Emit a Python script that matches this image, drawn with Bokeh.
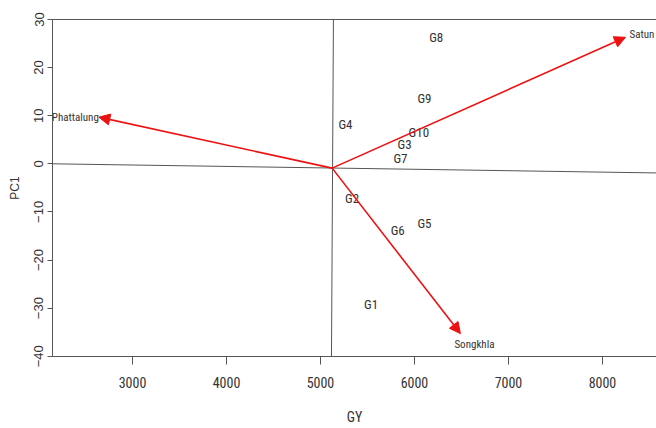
from bokeh.plotting import figure
from bokeh.models import Arrow, NormalHead, ColumnDataSource, LinearAxis, Range1d, FixedTicker
from bokeh.core.properties import value
from bokeh.embed import file_html
from bokeh.resources import INLINE

# ---- data ----
genotypes = ["G1", "G2", "G3", "G4", "G5", "G6", "G7", "G8", "G9", "G10"]
gen_x = [5539, 5337, 5894, 5266, 6106, 5822, 5851, 6231, 6106, 6046]
gen_y = [-29.3, -7.3, 4.0, 8.2, -12.5, -13.9, 1.2, 26.2, 13.5, 6.6]

envs = ["Phattalung", "Satun", "Songkhla"]
env_x = [2642, 8245, 6489]
env_y = [9.7, 26.3, -35.3]

origin_x = 5124
origin_y = -0.9

hline_x = [2149, 8575]
hline_y = [0.0, -1.9]
vline_x = [5138, 5117]
vline_y = [30.5, -40.5]

x_ticks = [3000, 4000, 5000, 6000, 7000, 8000]
y_ticks = [-40, -30, -20, -10, 0, 10, 20, 30]

NARROW = "Roboto Condensed, DejaVu Sans Condensed, Liberation Sans"
ARIAL = "Liberation Sans"
TXT = "#333333"
AX = "#555555"

p = figure(width=656, height=428, output_backend="svg", toolbar_location=None,
           x_range=Range1d(2149, 8575), y_range=Range1d(-40.06, 30.0),
           min_border_left=52, min_border_right=0, min_border_top=19, min_border_bottom=72,
           x_axis_label="GY", y_axis_label="PC1")
p.grid.visible = False
p.outline_line_color = None
p.background_fill_color = "white"

# x axis
xa = p.xaxis[0]
xa.ticker = FixedTicker(ticks=x_ticks)
xa.axis_line_color = AX
xa.major_tick_line_color = AX
xa.major_tick_out = 8
xa.major_tick_in = 0
xa.minor_tick_line_color = None
xa.major_label_text_font = NARROW
xa.major_label_text_font_size = "14px"
xa.major_label_text_color = TXT
xa.major_label_standoff = 12
xa.axis_label_text_font = NARROW
xa.axis_label_text_font_size = "14px"
xa.axis_label_text_font_style = "normal"
xa.axis_label_text_color = TXT
xa.axis_label_standoff = 18

# y axis
ya = p.yaxis[0]
ya.ticker = FixedTicker(ticks=y_ticks)
ya.axis_line_color = AX
ya.major_tick_line_color = AX
ya.major_tick_out = 5
ya.major_tick_in = 0
ya.minor_tick_line_color = None
ya.major_label_orientation = "vertical"
ya.major_label_text_font = ARIAL
ya.major_label_text_font_size = "13px"
ya.major_label_text_color = TXT
ya.major_label_standoff = 4
ya.axis_label_text_font = ARIAL
ya.axis_label_text_font_size = "12px"
ya.axis_label_text_font_style = "normal"
ya.axis_label_text_color = TXT
ya.axis_label_standoff = 10

# top frame line
top = LinearAxis(ticker=FixedTicker(ticks=[]), axis_line_color=AX,
                 major_tick_line_color=None, minor_tick_line_color=None,
                 major_label_text_font_size="0px")
p.add_layout(top, "above")

# cross lines through biplot origin
p.line(hline_x, hline_y, line_color=AX, line_width=1)
p.line(vline_x, vline_y, line_color=AX, line_width=1)

# environment vectors
RED = "#ee1111"
src = ColumnDataSource(dict(x0=[origin_x] * len(envs), y0=[origin_y] * len(envs), x1=env_x, y1=env_y))
p.add_layout(Arrow(end=NormalHead(size=11, fill_color=RED, line_color=RED),
                   x_start="x0", y_start="y0", x_end="x1", y_end="y1", source=src,
                   line_color=RED, line_width=1.6))

# genotype labels
p.text(x=gen_x, y=gen_y, text=genotypes, text_font=value(NARROW), text_font_size="13px",
       text_color=TXT, text_align="center", text_baseline="middle")

# environment labels
ENV_FS = "11px"
p.text(x=[env_x[0]], y=[env_y[0]], text=[envs[0]], text_font=value(NARROW), text_font_size=ENV_FS,
       text_color=TXT, text_align="right", text_baseline="middle", x_offset=0)
p.text(x=[env_x[1]], y=[env_y[1]], text=[envs[1]], text_font=value(NARROW), text_font_size=ENV_FS,
       text_color=TXT, text_align="left", text_baseline="middle", x_offset=4, y_offset=-3)
p.text(x=[env_x[2]], y=[env_y[2]], text=[envs[2]], text_font=value(NARROW), text_font_size=ENV_FS,
       text_color=TXT, text_align="center", text_baseline="middle", x_offset=14, y_offset=11)

open("out.html", "w").write(file_html(p, INLINE))
